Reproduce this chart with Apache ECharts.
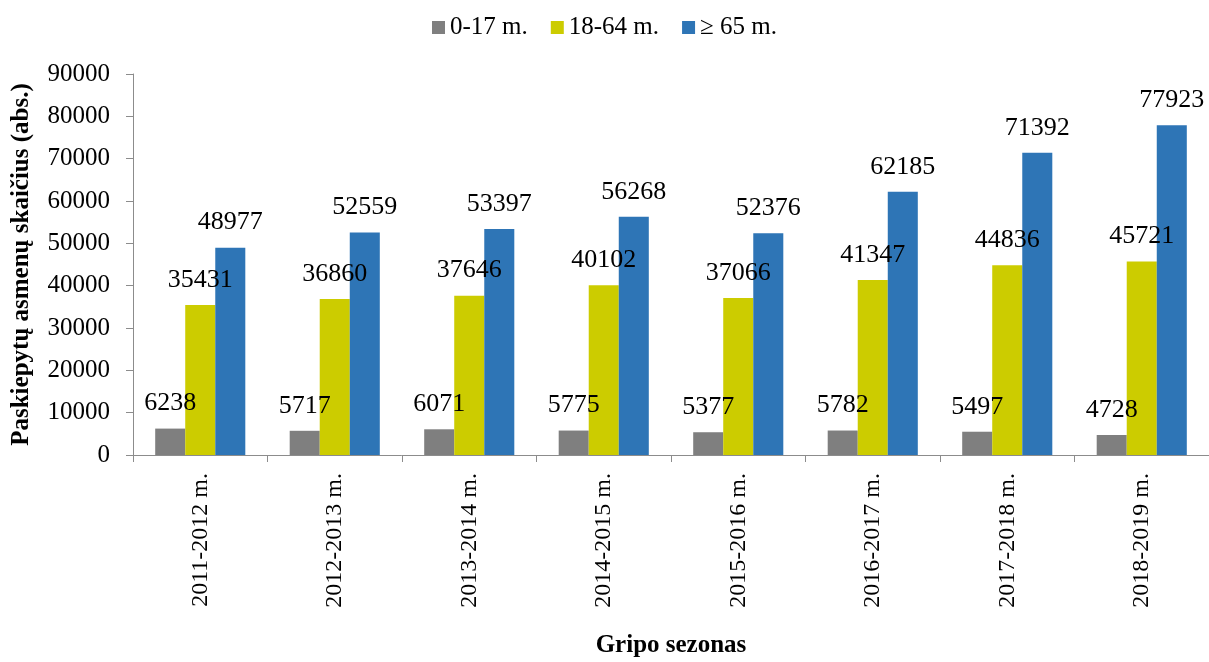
<!DOCTYPE html>
<html>
<head>
<meta charset="utf-8">
<script src="https://cdn.jsdelivr.net/npm/echarts@6/dist/echarts.min.js"></script>
<style>
  html, body { margin: 0; padding: 0; background: #fff; }
  #myChart { width: 1209px; height: 662px; }
</style>
</head>
<body>
<div id="myChart"></div>
<script>
const seasons = ['2011-2012 m.', '2012-2013 m.', '2013-2014 m.', '2014-2015 m.',
  '2015-2016 m.', '2016-2017 m.', '2017-2018 m.', '2018-2019 m.']
const age0to17 = [6238, 5717, 6071, 5775, 5377, 5782, 5497, 4728]
const age18to64 = [35431, 36860, 37646, 40102, 37066, 41347, 44836, 45721]
const age65plus = [48977, 52559, 53397, 56268, 52376, 62185, 71392, 77923]
const seriesNames = ['0-17 m.', '18-64 m.', '≥ 65 m.']
const yTicks = [0, 10000, 20000, 30000, 40000, 50000, 60000, 70000, 80000, 90000]

const font = 'Liberation Serif, Times New Roman, serif'
const axisColor = '#8c8c8c'

const myChart = echarts.init(document.getElementById('myChart'))

function barSeries(name, data, color) {
  return {
    name: name,
    type: 'bar',
    data: data,
    barGap: '0%',
    barCategoryGap: '33%',
    itemStyle: { color: color },
    label: {
      show: true,
      position: 'top',
      distance: 12,
      color: '#000',
      fontFamily: font,
      fontSize: 26
    }
  }
}

myChart.setOption({
  animation: false,
  textStyle: { fontFamily: font },
  legend: {
    top: 10,
    left: 'center',
    itemWidth: 13,
    itemHeight: 13,
    itemGap: 23,
    icon: 'rect',
    textStyle: { fontFamily: font, fontSize: 25, color: '#000' },
    data: seriesNames
  },
  grid: {
    left: 133,
    right: 0,
    top: 74,
    bottom: 207,
    containLabel: false,
    outerBoundsMode: 'none'
  },
  xAxis: {
    type: 'category',
    data: seasons,
    name: 'Gripo sezonas',
    nameLocation: 'middle',
    nameGap: 178,
    nameTextStyle: { fontFamily: font, fontSize: 25, fontWeight: 'bold', color: '#000' },
    axisLine: { lineStyle: { color: axisColor } },
    axisTick: { show: true, length: 7, lineStyle: { color: axisColor } },
    axisLabel: {
      rotate: 90,
      margin: 18,
      fontFamily: font,
      fontSize: 24,
      color: '#000'
    }
  },
  yAxis: {
    type: 'value',
    min: yTicks[0],
    max: yTicks[yTicks.length - 1],
    interval: 10000,
    name: 'Paskiepytų asmenų skaičius (abs.)',
    nameLocation: 'middle',
    nameGap: 99,
    nameTextStyle: { fontFamily: font, fontSize: 25, fontWeight: 'bold', color: '#000' },
    axisLine: { show: true, lineStyle: { color: axisColor } },
    axisTick: { show: true, length: 7, lineStyle: { color: axisColor } },
    splitLine: { show: false },
    axisLabel: {
      margin: 23,
      fontFamily: font,
      fontSize: 25,
      color: '#000',
      formatter: function (v) { return String(v) }
    }
  },
  series: [
    barSeries(seriesNames[0], age0to17, '#7f7f7f'),
    barSeries(seriesNames[1], age18to64, '#cccc00'),
    barSeries(seriesNames[2], age65plus, '#2e75b6')
  ]
})
</script>
</body>
</html>
